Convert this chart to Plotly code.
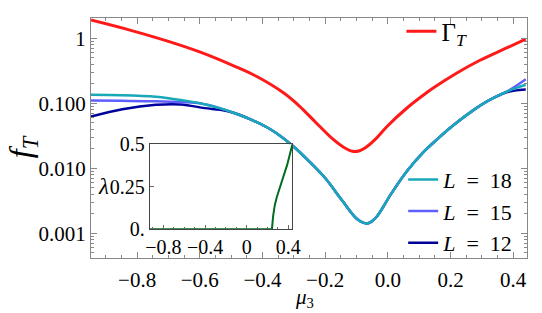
import plotly.graph_objects as go

# ---------------- data ----------------
mu_gamma = [-0.947, -0.82, -0.70, -0.596, -0.49, -0.418, -0.333, -0.283, -0.229, -0.176, -0.14,
            -0.113, -0.09, -0.073, -0.041, -0.001, 0.062, 0.115, 0.147, 0.219, 0.294, 0.37, 0.44]
gamma_T = [1.901, 1.318, 0.891, 0.603, 0.3715, 0.2570, 0.1445, 0.0912, 0.0501, 0.0282, 0.0209,
           0.0182, 0.0186, 0.0204, 0.0275, 0.0447, 0.0851, 0.1349, 0.1738, 0.2884, 0.4571, 0.6761, 0.966]

mu_L18 = [-0.947, -0.85, -0.74, -0.69, -0.637, -0.596, -0.534, -0.49, -0.44, -0.386, -0.355,
          -0.302, -0.251, -0.198, -0.145, -0.095, -0.066, -0.041, 0.012, 0.062, 0.115,
          0.147, 0.209, 0.272, 0.325, 0.376, 0.41, 0.44]
f_L18 = [0.1343, 0.1324, 0.1256, 0.1175, 0.1076, 0.0989, 0.0832, 0.0708, 0.0569, 0.0427, 0.0345,
         0.0218, 0.0128, 0.00689, 0.00316, 0.00161, 0.00142, 0.00168, 0.00415, 0.00912, 0.01795,
         0.0251, 0.0457, 0.0776, 0.1122, 0.1479, 0.1718, 0.1923]

mu_L15 = [-0.947, -0.85, -0.74, -0.66, -0.596, -0.534, -0.49, -0.44, -0.386, -0.355,
          -0.302, -0.251, -0.198, -0.145, -0.095, -0.066, -0.041, 0.012, 0.062, 0.115,
          0.147, 0.209, 0.272, 0.325, 0.376, 0.41, 0.44]
f_L15 = [0.1096, 0.1088, 0.1072, 0.1040, 0.0989, 0.0832, 0.0708, 0.0569, 0.0427, 0.0345,
         0.0218, 0.0128, 0.00689, 0.00316, 0.00161, 0.00142, 0.00168, 0.00415, 0.00912, 0.01795,
         0.0251, 0.0457, 0.0776, 0.1122, 0.1479, 0.185, 0.233]

mu_L12 = [-0.947, -0.847, -0.74, -0.66, -0.584, -0.534, -0.49, -0.44, -0.386, -0.355,
          -0.302, -0.251, -0.198, -0.145, -0.095, -0.066, -0.041, 0.012, 0.062, 0.115,
          0.147, 0.209, 0.272, 0.325, 0.376, 0.40, 0.42, 0.44]
f_L12 = [0.0622, 0.0807, 0.0944, 0.0957, 0.0840, 0.0790, 0.0708, 0.0569, 0.0427, 0.0345,
         0.0218, 0.0128, 0.00689, 0.00316, 0.00161, 0.00142, 0.00168, 0.00415, 0.00912, 0.01795,
         0.0251, 0.0457, 0.0776, 0.1122, 0.1460, 0.155, 0.160, 0.162]

mu_lam = [-0.93, 0.243, 0.255, 0.27, 0.29, 0.34, 0.39, 0.44]
lam = [0.0, 0.0, 0.08, 0.14, 0.19, 0.28, 0.38, 0.5]

x_ticks = [-0.8, -0.6, -0.4, -0.2, 0.0, 0.2, 0.4]
x_ticktext = ["\u22120.8", "\u22120.6", "\u22120.4", "\u22120.2", "0.0", "0.2", "0.4"]
y_ticks = [0.001, 0.01, 0.1, 1]
y_ticktext = ["0.001", "0.010", "0.100", "1"]
ix_ticks = [-0.8, -0.4, 0.0, 0.4]
ix_ticktext = ["\u22120.8", "\u22120.4", "0", "0.4"]
iy_ticks = [0.0, 0.25, 0.5]
iy_ticktext = ["0.", "0.25", "0.5"]

# ---------------- figure ----------------
FONT = "Liberation Serif"
RED = "#ff1a1a"
C18 = "rgb(25,168,185)"
C15 = "rgb(95,95,255)"
C12 = "rgb(0,0,155)"
GREEN = "rgb(0,110,30)"
SP = "\u2002"

fig = go.Figure()
fig.add_trace(go.Scatter(x=mu_gamma, y=gamma_T, mode="lines", line=dict(color=RED, width=3, shape="spline"),
                         name="\u0393<sub><i>T</i></sub>", legend="legend"))
fig.add_trace(go.Scatter(x=mu_L12, y=f_L12, mode="lines", line=dict(color=C12, width=2.5, shape="spline"),
                         name="<i>L</i>" + SP + "=" + SP + "12", legend="legend2", legendrank=3))
fig.add_trace(go.Scatter(x=mu_L15, y=f_L15, mode="lines", line=dict(color=C15, width=2.5, shape="spline"),
                         name="<i>L</i>" + SP + "=" + SP + "15", legend="legend2", legendrank=2))
fig.add_trace(go.Scatter(x=mu_L18, y=f_L18, mode="lines", line=dict(color=C18, width=2.5, shape="spline"),
                         name="<i>L</i>" + SP + "=" + SP + "18", legend="legend2", legendrank=1))
fig.add_trace(go.Scatter(x=mu_lam, y=lam, mode="lines", line=dict(color=GREEN, width=2),
                         showlegend=False, xaxis="x2", yaxis="y2"))

y_minor = [k * 10.0 ** e for e in range(-4, 1) for k in range(2, 10)]

fig.update_layout(
    width=542, height=313,
    margin=dict(l=91, r=7, t=7, b=55),
    plot_bgcolor="white", paper_bgcolor="white",
    font=dict(family=FONT, size=21, color="black"),
    xaxis=dict(range=[-0.947, 0.444], tickmode="array", tickvals=x_ticks, ticktext=x_ticktext,
               ticks="inside", ticklen=6, tickcolor="#888", mirror="allticks", showline=True,
               linecolor="#888", linewidth=1, showgrid=False, zeroline=False, ticklabelstandoff=3,
               minor=dict(tickmode="linear", tick0=0, dtick=0.05, ticks="inside", ticklen=3,
                          tickcolor="#888", showgrid=False)),
    yaxis=dict(type="log", range=[-3.38, 0.31], tickmode="array", tickvals=y_ticks, ticktext=y_ticktext,
               ticks="inside", ticklen=6, tickcolor="#888", mirror="allticks", showline=True,
               linecolor="#888", linewidth=1, showgrid=False, zeroline=False,
               minor=dict(tickmode="array", tickvals=y_minor, ticks="inside", ticklen=3,
                          tickcolor="#888", showgrid=False)),
    xaxis2=dict(domain=[0.135, 0.462], anchor="y2", range=[-0.93, 0.44], tickmode="array",
                tickvals=ix_ticks, ticktext=ix_ticktext, ticks="inside", ticklen=4, tickcolor="#666",
                showline=True, linecolor="#444", mirror=True, showgrid=False, zeroline=False,
                tickfont=dict(size=20),
                minor=dict(tickmode="linear", tick0=0, dtick=0.1, ticks="inside", ticklen=2,
                           tickcolor="#666")),
    yaxis2=dict(domain=[0.12, 0.474], anchor="x2", range=[0, 0.5], tickmode="array",
                tickvals=iy_ticks, ticktext=iy_ticktext, ticks="inside", ticklen=4, tickcolor="#666",
                showline=True, linecolor="#444", mirror=True, showgrid=False, zeroline=False,
                tickfont=dict(size=20)),
    legend=dict(x=0.712, y=1.04, xanchor="left", yanchor="top", bgcolor="rgba(0,0,0,0)",
                font=dict(family=FONT, size=25), itemwidth=30),
    legend2=dict(x=0.716, y=0.414, xanchor="left", yanchor="top", bgcolor="rgba(0,0,0,0)",
                 font=dict(family=FONT, size=22), itemwidth=30, tracegroupgap=0),
    showlegend=True,
)

fig.add_annotation(text="<i>f</i><sub><i>T</i></sub>", xref="paper", yref="paper", x=-0.158, y=0.462,
                   xanchor="center", yanchor="middle",
                   showarrow=False, textangle=-90, font=dict(family=FONT, size=32))
fig.add_annotation(text="<i>\u03bc</i><sub>3</sub>", xref="paper", yref="paper", x=0.489, y=-0.165,
                   xanchor="center", yanchor="middle",
                   showarrow=False, font=dict(family=FONT, size=21))
fig.add_annotation(text="<i>\u03bb</i>", xref="paper", yref="paper", x=0.029, y=0.30,
                   xanchor="center", yanchor="middle",
                   showarrow=False, font=dict(family=FONT, size=23))

fig.write_html("out.html")
